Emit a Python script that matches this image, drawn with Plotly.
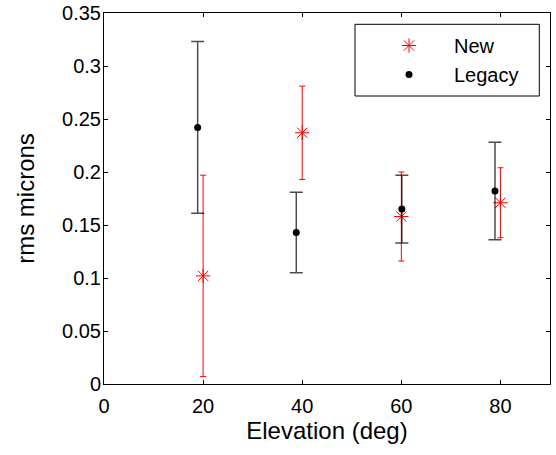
import plotly.graph_objects as go

# Data
new_x = [20, 40, 60, 80]
new_y = [0.102, 0.237, 0.158, 0.171]
new_err = [0.095, 0.044, 0.042, 0.033]

legacy_x = [18.9, 38.8, 60.1, 78.9]
legacy_y = [0.242, 0.143, 0.165, 0.182]
legacy_err = [0.081, 0.038, 0.032, 0.046]

x_ticks = [0, 20, 40, 60, 80]
y_ticks = [0, 0.05, 0.1, 0.15, 0.2, 0.25, 0.3, 0.35]
y_tick_text = ["0", "0.05", "0.1", "0.15", "0.2", "0.25", "0.3", "0.35"]

FONT = "Liberation Sans, Arial, Helvetica, sans-serif"
FS = 20

W, H = 556, 455
L, R, T, B = 104, 6, 13, 71
PW = W - L - R
PH = H - T - B
# helpers converting window pixels to paper coords
px = lambda x: (x - L) / PW
py = lambda y: (T + PH - y) / PH

fig = go.Figure()
fig.add_trace(go.Scatter(
    x=new_x, y=new_y, mode="markers", name="New",
    marker=dict(symbol="asterisk-open", size=12, color="red",
                line=dict(color="red", width=1)),
    error_y=dict(type="data", array=new_err, symmetric=True,
                 color="red", thickness=1, width=3),
))
fig.add_trace(go.Scatter(
    x=legacy_x, y=legacy_y, mode="markers", name="Legacy",
    marker=dict(symbol="circle", size=7, color="black"),
    error_y=dict(type="data", array=legacy_err, symmetric=True,
                 color="rgba(0,0,0,0.7)", thickness=1.5, width=6.5),
))

# legend frame (MATLAB style box)
fig.add_shape(type="rect", xref="paper", yref="paper",
              x0=px(355), x1=px(539.3), y0=py(96), y1=py(24.3),
              line=dict(color="black", width=1), fillcolor="white", layer="above")

fig.update_layout(
    width=W, height=H,
    margin=dict(l=L, r=R, t=T, b=B),
    paper_bgcolor="white", plot_bgcolor="white",
    font=dict(family=FONT, size=FS, color="black"),
    showlegend=True,
    legend=dict(x=px(364), y=py(26),
                xanchor="left", yanchor="top",
                bgcolor="rgba(0,0,0,0)", borderwidth=0,
                font=dict(family=FONT, size=FS), itemwidth=80,
                tracegroupgap=0),
    xaxis=dict(range=[0, 90], tickvals=x_ticks, ticks="inside", ticklen=4,
               showline=True, linecolor="black", linewidth=1, mirror="ticks",
               showgrid=False, zeroline=False, tickcolor="black",
               ticklabelstandoff=4, automargin=False, ticklabeloverflow="allow",
               title=dict(text="Elevation (deg)", standoff=0)),
    yaxis=dict(range=[0, 0.35], tickvals=y_ticks, ticktext=y_tick_text,
               ticks="inside", ticklen=4,
               showline=True, linecolor="black", linewidth=1, mirror="ticks",
               showgrid=False, zeroline=False, tickcolor="black",
               ticklabelstandoff=-2, automargin=False, ticklabeloverflow="allow",
               title=dict(text="rms microns", standoff=20)),
)

# remove the page's default 8px body margin so the figure fills the window
fig.write_html("out.html", config={"displayModeBar": False},
               post_script="document.body.style.margin='0';")
